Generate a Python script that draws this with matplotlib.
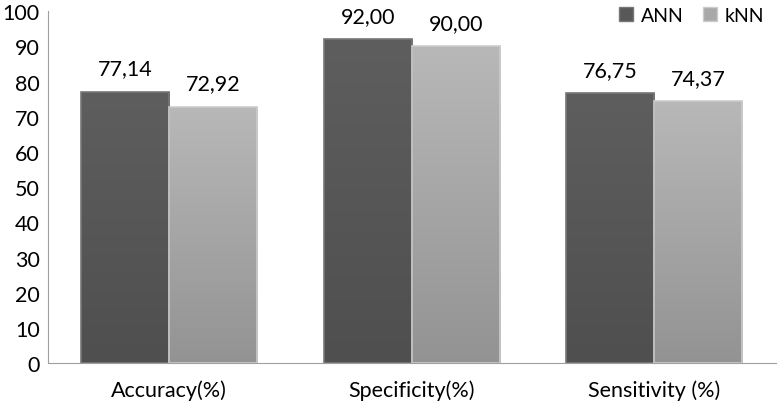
import matplotlib.pyplot as plt
import numpy as np
from matplotlib.colors import LinearSegmentedColormap
from matplotlib.patches import Patch

categories = ['Accuracy(%)', 'Specificity(%)', 'Sensitivity (%)']
ann = [77.14, 92.00, 76.75]
knn = [72.92, 90.00, 74.37]

plt.rcParams['font.family'] = ['Lato', 'DejaVu Sans']

fig = plt.figure(figsize=(7.79, 4.06), dpi=100)
ax = fig.add_axes([0.0616, 0.103, 0.934, 0.867])

x = np.arange(len(categories))
w = 0.363
b1 = ax.bar(x - w / 2, ann, w, color='#585858', edgecolor='#777777', linewidth=1.2, label='ANN')
b2 = ax.bar(x + w / 2, knn, w, color='#a8a8a8', edgecolor='#cccccc', linewidth=1.2, label='kNN')

# soft vertical shading inside the bars (lighter at the top)
grad = np.linspace(0, 1, 256).reshape(-1, 1)
cm_dark = LinearSegmentedColormap.from_list('d', ['#4f4f4f', '#5e5e5e'])
cm_light = LinearSegmentedColormap.from_list('l', ['#939393', '#b8b8b8'])
for bars, cm in ((b1, cm_dark), (b2, cm_light)):
    for bar in bars:
        x0 = bar.get_x()
        im = ax.imshow(grad, extent=[x0, x0 + bar.get_width(), 0, bar.get_height()],
                       aspect='auto', cmap=cm, origin='lower', zorder=bar.get_zorder() - 0.1)
        im.set_clip_path(bar)
        bar.set_facecolor('none')

def fmt(v):
    return f'{v:.2f}'.replace('.', ',')

for bars, vals in ((b1, ann), (b2, knn)):
    for bar, v in zip(bars, vals):
        ax.text(bar.get_x() + bar.get_width() / 2, v + 3.8, fmt(v),
                ha='center', va='bottom', fontsize=15.5)

ax.set_xlim(-0.5, 2.5)
ax.set_ylim(0, 100)
ax.set_yticks(range(0, 101, 10))
ax.set_xticks(x)
ax.set_xticklabels(categories)
ax.tick_params(axis='both', length=0, labelsize=15.5)
ax.tick_params(axis='x', pad=12)
ax.tick_params(axis='y', pad=6)
for s in ('top', 'right'):
    ax.spines[s].set_visible(False)
for s in ('left', 'bottom'):
    ax.spines[s].set_color('#a0a0a0')

handles = [Patch(facecolor='#585858', edgecolor='#777777'),
           Patch(facecolor='#a8a8a8', edgecolor='#cccccc')]
ax.legend(handles, ['ANN', 'kNN'], loc='upper right', ncol=2, frameon=False, fontsize=14,
          handlelength=0.7, handleheight=0.7, columnspacing=1.0, handletextpad=0.4,
          bbox_to_anchor=(1.0, 1.045), borderaxespad=0.2)

fig.savefig('out.png', dpi=100)
